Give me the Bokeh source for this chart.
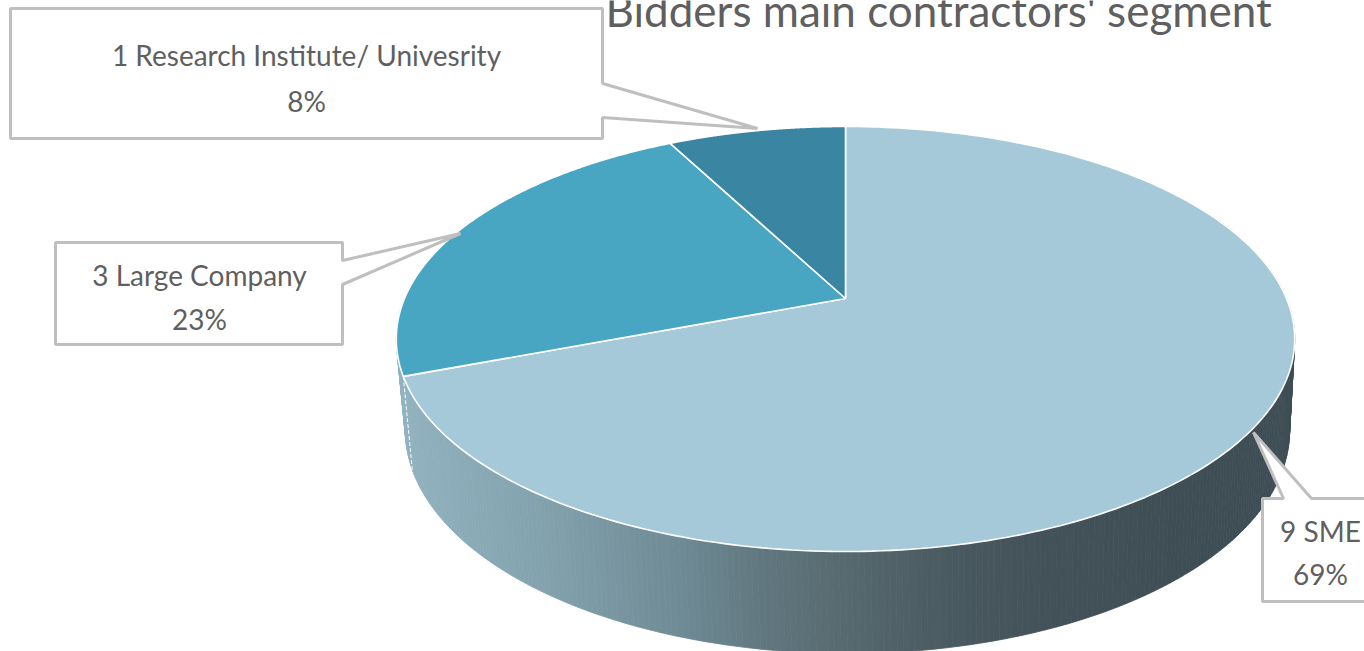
import numpy as np
from bokeh.plotting import figure
from bokeh.models import Range1d
from bokeh.core.properties import value
from bokeh.embed import file_html
from bokeh.resources import INLINE

# data
segments = ["9 SME", "3 Large Company", "1 Research Institute/ Univesrity"]
counts = [9, 3, 1]
percents = ["69%", "23%", "8%"]
slice_colors = ["#a6c9d9", "#48a6c3", "#3a86a2"]
title_text = "Bidders main contractors' segment"

W, H = 1364, 651
TEXT = "#5f5f5f"
EDGE = "#bfbfbf"
FONT = "Lato"

p = figure(width=W, height=H, output_backend="svg", toolbar_location=None,
           x_range=Range1d(0, W), y_range=Range1d(H, 0), min_border=0)
p.axis.visible = False
p.grid.visible = False
p.outline_line_color = None
p.background_fill_color = "#ffffff"
p.border_fill_color = "#ffffff"


def project(theta, cx, cy, R, S, k=0.1905):
    """Perspective view of a disc; theta is clockwise from 12 o'clock."""
    u, v = np.sin(theta), np.cos(theta)
    d = 1 + k * v
    return cx + R * u / d, cy - S * v / d


TOP = dict(cx=845, cy=298, R=441, S=204.8)
BOT = dict(cx=847, cy=387.5, R=434, S=214.9)

# wall, shaded along the screen x
stops_x = [395, 540, 680, 760, 850, 950, 1040, 1200, 1300]
stops_c = [(0x93, 0xb3, 0xc1), (0x84, 0xa3, 0xaf), (0x6f, 0x8b, 0x95), (0x62, 0x78, 0x80),
           (0x56, 0x69, 0x6f), (0x4a, 0x5a, 0x61), (0x44, 0x52, 0x59), (0x3f, 0x4e, 0x55), (0x3f, 0x4e, 0x55)]
th = np.radians(np.linspace(60, 300, 361))
xs_w, ys_w, cols_w = [], [], []
for a, b in zip(th[:-1], th[1:]):
    xa, ya = project(np.array([a, b]), **TOP)
    xb, yb = project(np.array([b, a]), **BOT)
    xm = (xa.mean() + xb.mean()) / 2
    rgb = [int(np.interp(xm, stops_x, [c[i] for c in stops_c])) for i in range(3)]
    xs_w.append(list(xa) + list(xb))
    ys_w.append(list(ya) + list(yb))
    cols_w.append("#%02x%02x%02x" % tuple(rgb))
p.patches(xs_w, ys_w, fill_color=cols_w, line_color=cols_w, line_width=0.8)

# white seam on the wall at the SME / Large Company boundary
total = sum(counts)
edges = np.cumsum([0] + counts) / total * 2 * np.pi
xa, ya = project(edges[1], **TOP)
xb, yb = project(edges[1], **BOT)
p.line([xa, xb], [ya, yb], line_color="#ffffff", line_width=1, line_dash="4 2")

# top face
for i in range(len(counts)):
    t = np.linspace(edges[i], edges[i + 1], 240)
    x, y = project(t, **TOP)
    cx0, cy0 = project(np.array([0.0]), **{**TOP, "R": 0, "S": 0})
    xs = np.concatenate([cx0, x])
    ys = np.concatenate([cy0, y])
    p.patch(xs, ys, fill_color=slice_colors[i], line_color="#ffffff", line_width=1.6)

# call-outs
callouts = [
    ([10, 602, 602, 757, 602, 602, 10], [8, 8, 83, 128, 117, 138, 138]),
    ([55, 342, 342, 460, 342, 342, 55], [242, 242, 260, 233, 284, 344, 344]),
    ([1262, 1283, 1253, 1311, 1380, 1380, 1262], [498, 498, 432, 498, 498, 601, 601]),
]
order = [2, 1, 0]
for (cx_, cy_) in callouts:
    p.patch(cx_, cy_, fill_color="#ffffff", line_color=EDGE, line_width=3)

# texts
label_x = [1320, 199, 306]
label_y = [[530, 573], [274, 318], [54, 100]]
for i in range(len(segments)):
    for txt, yy in zip([segments[i], percents[i]], label_y[i]):
        p.text([label_x[i]], [yy], text=[txt], text_font=value(FONT), text_font_size="28px",
               text_color=TEXT, text_align="center", text_baseline="middle")

p.text([605], [9], text=[title_text], text_font=value(FONT), text_font_size="44px",
       text_color=TEXT, text_align="left", text_baseline="alphabetic")

html = file_html(p, INLINE)
html = html.replace("<head>", "<head><style>html,body{margin:0;padding:0;overflow:hidden}</style>", 1)
open("out.html", "w").write(html)
